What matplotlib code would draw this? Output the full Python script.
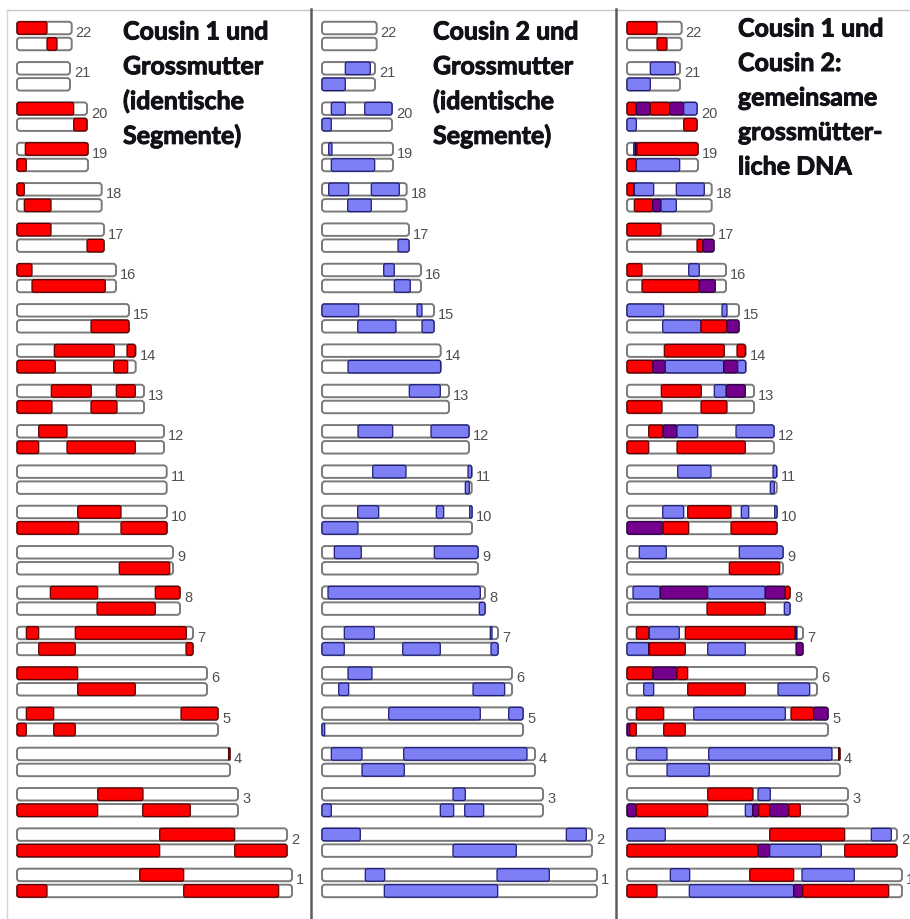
import matplotlib.pyplot as plt
import matplotlib.patheffects as pe
from matplotlib.patches import FancyBboxPatch
from matplotlib.lines import Line2D

# chromosomes from top (22) to bottom (1), lengths in drawing units
chromosomes = list(range(22, 0, -1))
chrom_length = [54.7, 53, 70, 71, 84.7, 87, 99, 112, 118.7, 127, 147, 149.7,
                150, 156, 163, 176, 190, 201, 213, 221, 270, 275]

# Cousin 1 vs. Grossmutter: identical segments (start, end) per copy
cousin1_top = {
    22: [(0, 30)], 21: [], 20: [(0, 56.7)], 19: [(8.3, 71)], 18: [(0, 7.3)],
    17: [(0, 34)], 16: [(0, 15)], 15: [], 14: [(37.3, 97.3), (110, 118.3)],
    13: [(34.3, 74.3), (99.3, 118.3)], 12: [(21.7, 50)], 11: [],
    10: [(60.7, 104)], 9: [], 8: [(33.3, 80.7), (138.3, 163)],
    7: [(9.3, 21.7), (58.3, 169.3)], 6: [(0, 60.7)],
    5: [(9.3, 36.7), (164, 201)], 4: [(211.6, 213)], 3: [(80.7, 126)],
    2: [(142.7, 217.7)], 1: [(122.7, 166.7)],
}
cousin1_bottom = {
    22: [(30, 40)], 21: [], 20: [(56.7, 70)], 19: [(0, 9.3)], 18: [(7.3, 34)],
    17: [(70, 87)], 16: [(15, 88.3)], 15: [(74, 112)],
    14: [(0, 38.3), (96.7, 110.7)], 13: [(0, 35), (74, 100)],
    12: [(0, 21.7), (50, 118.3)], 11: [], 10: [(0, 61.7), (104, 150)],
    9: [(102.3, 152.7)], 8: [(80, 138.3)], 7: [(21.7, 58.3), (169, 176)],
    6: [(60.7, 118.3)], 5: [(0, 9.3), (36.7, 58.3)], 4: [],
    3: [(0, 80.7), (125.7, 173.3)], 2: [(0, 142.7), (217.7, 270)],
    1: [(0, 30), (166.7, 261.7)],
}

# Cousin 2 vs. Grossmutter
cousin2_top = {
    22: [], 21: [(23.3, 48.3)], 20: [(9.3, 23.3), (42.7, 70)], 19: [(6.7, 10)],
    18: [(6.7, 26.7), (49.3, 77.3)], 17: [], 16: [(61.7, 72.3)],
    15: [(0, 36.7), (95, 100)], 14: [], 13: [(87.3, 118.3)],
    12: [(36, 70.7), (109, 147)], 11: [(50.7, 84), (146, 149.7)],
    10: [(35.7, 56.7), (114.3, 121.7), (147.7, 150)],
    9: [(12.3, 39.3), (112.3, 156)], 8: [(6, 158.3)],
    7: [(22.3, 52.3), (168.3, 170)], 6: [(26, 50)],
    5: [(66.7, 158.3), (186.7, 201)], 4: [(9.3, 40), (81.7, 205)],
    3: [(131, 143.3)], 2: [(0, 38.3), (244.3, 264.3)],
    1: [(43.3, 62.7), (175, 227.3)],
}
cousin2_bottom = {
    22: [], 21: [(0, 23.3)], 20: [(0, 9.3)], 19: [(9.3, 52.7)],
    18: [(25.7, 49.3)], 17: [(76, 87)], 16: [(72.3, 88.3)],
    15: [(35.7, 74), (100, 112)], 14: [(26, 118.7)], 13: [], 12: [],
    11: [(143.3, 147.3)], 10: [(0, 36)], 9: [], 8: [(157.3, 163)],
    7: [(0, 22.3), (80.7, 118.3), (169, 176)], 6: [(16.7, 26.7), (151, 182.7)],
    5: [(0, 2.7)], 4: [(40, 82.3)], 3: [(0, 9.3), (118.3, 131.7), (142.7, 161.7)],
    2: [(131, 194.3)], 1: [(62.3, 175.7)],
}

titles = [
    ["Cousin 1 und", "Grossmutter", "(identische", "Segmente)"],
    ["Cousin 2 und", "Grossmutter", "(identische", "Segmente)"],
    ["Cousin 1 und", "Cousin 2:", "gemeinsame", "grossmütter-", "liche DNA"],
]

colors = {"red": ("#ff0000", "#5a0000"),
          "blue": ("#7f7ff5", "#1c1c78"),
          "both": ("#74008e", "#2a0040")}

W, H = 910, 920
ROW_PX = 40.33       # pixels per chromosome row
ROW0_PX = 37         # centre of first row
BAR_H = 12.5 / ROW_PX
OFFSET = 8 / ROW_PX
ASPECT = 1 / ROW_PX


def overlay(red, blue):
    cuts = sorted({p for s in red + blue for p in s})
    out = []
    for a, b in zip(cuts[:-1], cuts[1:]):
        m = (a + b) / 2
        r = any(s <= m <= e for s, e in red)
        bl = any(s <= m <= e for s, e in blue)
        if not (r or bl):
            continue
        kind = "both" if (r and bl) else ("red" if r else "blue")
        if out and out[-1][2] == kind and abs(out[-1][1] - a) < 1e-9:
            out[-1] = (out[-1][0], b, kind)
        else:
            out.append((a, b, kind))
    return out


def box(ax, x0, x1, yc, fc, ec, lw, r):
    w = x1 - x0
    r = min(r, w / 2)
    ax.add_patch(FancyBboxPatch((x0, yc - BAR_H / 2), w, BAR_H,
                                boxstyle=f"round,pad=0,rounding_size={r}",
                                mutation_aspect=ASPECT, fc=fc, ec=ec, lw=lw))


fig = plt.figure(figsize=(W / 100, H / 100), dpi=100)
fig.patch.set_facecolor("white")

panel_left = [0, 305, 610]
panel_width = [305, 305, 300]
title_x = [123, 433, 738]
title_y0 = [33, 33, 30]

for p in range(3):
    ax = fig.add_axes([panel_left[p] / W, 0, panel_width[p] / W, 1])
    ax.set_xlim(-17, panel_width[p] - 17)
    ax.set_ylim((H - ROW0_PX) / ROW_PX, -ROW0_PX / ROW_PX)
    ax.axis("off")
    for i, (chrom, length) in enumerate(zip(chromosomes, chrom_length)):
        for copy, yc in ((0, i - OFFSET), (1, i + OFFSET)):
            box(ax, 0, length, yc, "white", "#7a7a7a", 1.4, 3)
            red = (cousin1_top if copy == 0 else cousin1_bottom)[chrom]
            blue = (cousin2_top if copy == 0 else cousin2_bottom)[chrom]
            if p == 0:
                segs = [(s, e, "red") for s, e in red]
            elif p == 1:
                segs = [(s, e, "blue") for s, e in blue]
            else:
                segs = overlay(red, blue)
            for s, e, kind in segs:
                fc, ec = colors[kind]
                box(ax, s, e, yc, fc, ec, 0.9, 2)
        ax.text(length + 4, i - 0.1, str(chrom), ha="left", va="center",
                fontsize=10.5, color="#505050", family="Liberation Sans")

    step = 34.7 if p < 2 else 34.5
    for k, line in enumerate(titles[p]):
        fig.text(title_x[p] / W, 1 - (title_y0[p] + k * step) / H, line,
                 ha="left", va="center", fontsize=18, fontweight="bold",
                 family="Lato", color="#111118",
                 path_effects=[pe.withStroke(linewidth=0.7, foreground="#111118")])

# frame and panel separators
fig.add_artist(Line2D([7 / W, 1], [1 - 11 / H, 1 - 11 / H], color="#c8c8c8", lw=1))
fig.add_artist(Line2D([7 / W, 7 / W], [0, 1 - 11 / H], color="#d4d4d4", lw=1))
for xs in (310.5, 615.5):
    fig.add_artist(Line2D([xs / W, xs / W], [0, 1 - 10 / H], color="#5c5c5c", lw=1.8))

fig.savefig("out.png", dpi=100, facecolor="white")
